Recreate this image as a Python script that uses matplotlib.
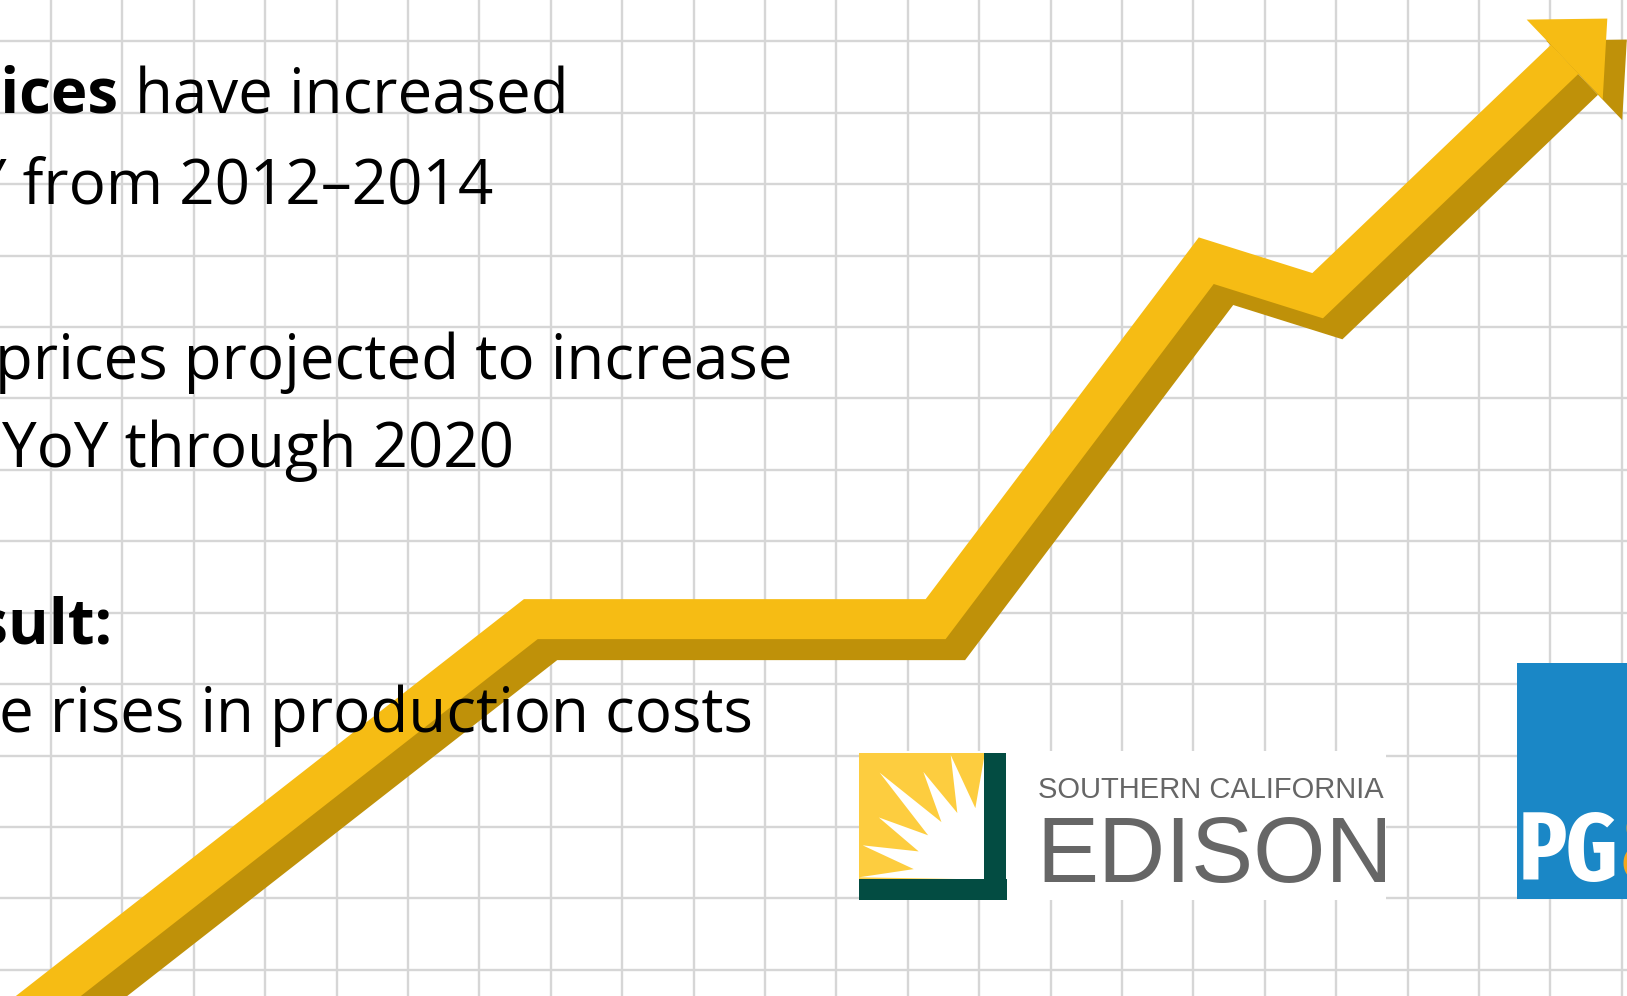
import numpy as np
import matplotlib
matplotlib.use("Agg")
import matplotlib.pyplot as plt
import matplotlib.transforms as mtransforms
from matplotlib.patches import Polygon, Rectangle
from matplotlib import font_manager
from matplotlib.font_manager import FontProperties

# ------------------ data ------------------
# trend-arrow vertices in grid-cell units (x: columns, y: rows above the lowest grid line)
trend_x = [-0.82, 6.72, 12.39, 16.18, 17.74, 21.20]
trend_y = [-0.98, 4.91, 4.91, 9.93, 9.44, 12.75]
grid_cols = list(range(0, 23))
grid_rows = list(range(0, 14))

bold_lead = ["prices", "Result:"]
body_text = ["have increased", "YoY from 2012\u20132014",
             "prices projected to increase", "YoY through 2020",
             "e rises in production costs"]
edison_small = "SOUTHERN CALIFORNIA"
edison_big = "EDISON"
pge_letters = "PG"
pge_amp = "&"

# ------------------ figure / grid axes ------------------
W, H, DPI = 1627, 996, 100
fig = plt.figure(figsize=(W / DPI, H / DPI), dpi=DPI, facecolor="white")
ax = fig.add_axes([0, 0, 1, 1])
cell = 71.4
x0_px, y0_px = 51.0, 969.7
ax.set_xlim(-x0_px / cell, (W - x0_px) / cell)
ax.set_ylim((y0_px - H) / cell, y0_px / cell)
ax.set_xticks(grid_cols)
ax.set_yticks(grid_rows)
ax.tick_params(length=0, labelbottom=False, labelleft=False)
for s in ax.spines.values():
    s.set_visible(False)
ax.grid(True, color="#d6d6d6", lw=1.7)
ax.set_axisbelow(True)
ax.set_facecolor("white")

# ------------------ arrow ------------------
LIGHT, DARK = "#F6BC14", "#BF9109"
HALF = 20.0          # half band thickness in px
sdx, sdy = 19.5, -21.0


def band_polygon(P, hw):
    P = np.asarray(P, float)
    d = np.diff(P, axis=0)
    d = d / np.hypot(d[:, 0], d[:, 1])[:, None]
    nrm = np.column_stack([-d[:, 1], d[:, 0]])
    left, right = [P[0] + nrm[0] * hw], [P[0] - nrm[0] * hw]
    for i in range(1, len(P) - 1):
        m = (nrm[i - 1] + nrm[i]) / (1 + np.dot(nrm[i - 1], nrm[i]))
        left.append(P[i] + m * hw)
        right.append(P[i] - m * hw)
    left.append(P[-1] + nrm[-1] * hw)
    right.append(P[-1] - nrm[-1] * hw)
    return np.vstack([left, right[::-1]])


pts = ax.transData.transform(np.column_stack([trend_x, trend_y]))
shaft = band_polygon(pts, HALF)
end, prev = pts[-1], pts[-2]
dvec = (end - prev) / np.hypot(*(end - prev))
nvec = np.array([-dvec[1], dvec[0]])
head = np.array([end + nvec * 55, end + dvec * 59, end - nvec * 55])

ident = mtransforms.IdentityTransform()
off = np.array([sdx, sdy])
for shape in (shaft, head):
    ax.add_patch(Polygon(shape + off, closed=True, fc=DARK, ec="none",
                         transform=ident, zorder=2, clip_on=False))
for shape in (shaft, head):
    ax.add_patch(Polygon(shape, closed=True, fc=LIGHT, ec="none",
                         transform=ident, zorder=3, clip_on=False))

# ------------------ overlay in pixel coords ------------------
ov = fig.add_axes([0, 0, 1, 1])
ov.set_xlim(0, W)
ov.set_ylim(H, 0)
ov.axis("off")

FONT = ["Open Sans", "DejaVu Sans"]
FS = 44.6
bold_right = [118, 113]
bold_base = [113.3, 643.3]
for t, xr, yb in zip(bold_lead, bold_right, bold_base):
    ov.text(xr, yb, t, ha="right", va="baseline", fontsize=FS, fontweight="bold",
            family=FONT, color="black", zorder=6)
body_right = [569, 493, 793, 514, 753]
body_base = [113.3, 203.3, 379.3, 466.7, 731.7]
for t, xr, yb in zip(body_text, body_right, body_base):
    ov.text(xr, yb, t, ha="right", va="baseline", fontsize=FS, family=FONT,
            color="black", zorder=6)

# --- Southern California Edison logo ---
ov.add_patch(Rectangle((858.6, 750.7), 527.4, 149.3, fc="white", ec="none", zorder=4))
ov.add_patch(Rectangle((858.6, 752.5), 126.5, 127.0, fc="#FDCD3F", ec="none", zorder=4))
cx, cy = 985.0, 879.5
tips = [(1, 126), (15.6, 127), (30.3, 123), (45.4, 150), (60.2, 124), (74.6, 129), (90, 127)]
poly = [(cx, cy)]
for i, (ang, r) in enumerate(tips):
    a = np.radians(ang)
    poly.append((cx - r * np.cos(a), cy - r * np.sin(a)))
    if i < len(tips) - 1:
        am = np.radians((ang + tips[i + 1][0]) / 2)
        poly.append((cx - 72 * np.cos(am), cy - 72 * np.sin(am)))
ov.add_patch(Polygon(poly, closed=True, fc="white", ec="none", zorder=4.5))
ov.add_patch(Rectangle((984.5, 752.5), 22.0, 147.5, fc="#034C42", ec="none", zorder=4.6))
ov.add_patch(Rectangle((858.6, 879.3), 148.0, 20.7, fc="#034C42", ec="none", zorder=4.6))
EFONT = ["Liberation Sans", "DejaVu Sans"]
ov.text(1038, 798.3, edison_small, ha="left", va="baseline", fontsize=21, family=EFONT,
        color="#666666", zorder=5)
ov.text(1036, 881.7, edison_big, ha="left", va="baseline", fontsize=67, family=EFONT,
        color="#666666", zorder=5)

# --- PG&E logo (cropped) ---
blue = Rectangle((1517.3, 662.7), 120, 236.6, fc="#1A87C6", ec="none", zorder=4)
ov.add_patch(blue)


def pick_condensed_bold():
    best, best_score = None, -1
    for f in font_manager.fontManager.ttflist:
        fn = f.fname.lower()
        w = f.weight if isinstance(f.weight, int) else 700 if "bold" in str(f.weight) else 400
        if w < 600:
            continue
        score = -1
        if "extracondensed" in fn or "extra-condensed" in str(f.stretch):
            score = 3
        elif "condensed" in fn or "condensed" in str(f.stretch):
            score = 2
        elif "narrow" in fn or "narrow" in f.name.lower():
            score = 1
        if score > 0 and "italic" not in fn and "oblique" not in fn:
            if w > 800:
                score -= 0.5
            if score > best_score:
                best, best_score = f.fname, score
    if best:
        return FontProperties(fname=best)
    return FontProperties(family="Liberation Sans", weight="bold")


pfp = pick_condensed_bold()
renderer = fig.canvas.get_renderer()
pfp72 = pfp.copy()
pfp72.set_size(72)
probe = ov.text(0, 0, pge_letters, fontproperties=pfp72)
pw = probe.get_window_extent(renderer).width
probe.remove()
pfs = 72 * 100.0 / pw                       # letters span ~100 px
em_px = pfs * DPI / 72
base = 812 + 0.714 * em_px
pfpN = pfp.copy()
pfpN.set_size(pfs)
tpg = ov.text(1519, base, pge_letters, ha="left", va="baseline", fontproperties=pfpN,
              color="white", zorder=5)
tpg.set_clip_path(blue)
ext = tpg.get_window_extent(renderer)
tam = ov.text(min(ext.x1, 1620), base, pge_amp, ha="left", va="baseline",
              fontproperties=pfpN, color="#F5A81C", zorder=5)
tam.set_clip_path(blue)

fig.savefig("out.png", dpi=DPI, facecolor="white")
